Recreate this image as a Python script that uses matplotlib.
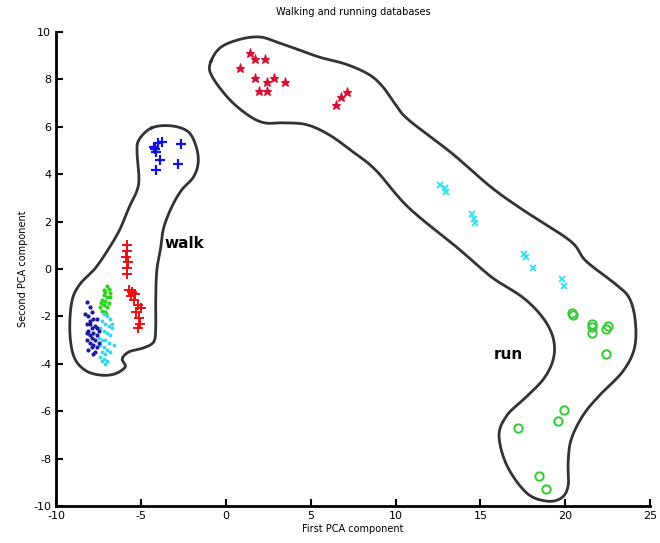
import numpy as np
import matplotlib
matplotlib.use("Agg")
import matplotlib.pyplot as plt

plt.rcParams["axes.unicode_minus"] = False

# ---- walk clusters ----
walk_blue_x = [-4.24, -4.0, -3.78, -2.67, -4.1, -3.9, -2.8, -4.1, -4.2]
walk_blue_y = [5.15, 5.3, 5.36, 5.28, 4.95, 4.6, 4.43, 4.2, 5.05]

walk_red_x = [-5.85, -5.8, -5.9, -5.75, -5.85, -5.8, -5.7, -5.5, -5.35, -5.6,
              -5.4, -5.2, -5.0, -5.3, -5.1, -5.05, -5.15]
walk_red_y = [1.0, 0.75, 0.5, 0.3, 0.05, -0.2, -0.9, -0.95, -1.05, -1.15,
              -1.3, -1.5, -1.65, -1.8, -2.05, -2.3, -2.5]

walk_green_x = [-7.0, -6.9, -7.1, -6.8, -7.2, -7.0, -7.3, -7.1, -6.9, -7.2,
                -7.4, -7.0, -7.3, -7.1, -6.8, -7.2, -7.35, -7.05]
walk_green_y = [-0.7, -0.85, -0.95, -1.0, -1.1, -1.2, -1.3, -1.35, -1.45, -1.5,
                -1.6, -1.6, -1.75, -1.8, -1.2, -0.9, -1.45, -1.9]

walk_cyan_x = [-7.2, -7.0, -6.8, -7.3, -7.1, -6.9, -6.7, -7.4, -7.2, -7.0,
               -6.8, -7.5, -7.3, -7.1, -6.9, -6.6, -7.4, -7.2, -7.0, -7.3,
               -7.1, -6.8, -7.4, -7.2, -7.0, -7.3, -7.1, -6.7]
walk_cyan_y = [-1.9, -2.0, -2.1, -2.2, -2.3, -2.4, -2.5, -2.5, -2.6, -2.7,
               -2.8, -2.9, -3.0, -3.0, -3.1, -3.2, -3.2, -3.3, -3.4, -3.5,
               -3.6, -3.5, -3.7, -3.8, -3.9, -3.9, -4.0, -2.3]

walk_navy_x = [-8.2, -8.0, -7.9, -8.3, -8.1, -7.8, -7.6, -8.2, -8.0, -7.7,
               -7.9, -8.1, -7.5, -7.8, -8.0, -7.6, -7.9, -8.2, -7.7, -7.5,
               -8.0, -7.8, -7.6, -7.9, -8.1, -7.7, -7.8, -8.0, -7.6, -8.2]
walk_navy_y = [-1.4, -1.6, -1.8, -1.9, -2.0, -2.1, -2.1, -2.3, -2.3, -2.4,
               -2.5, -2.6, -2.6, -2.7, -2.8, -2.8, -2.9, -3.0, -3.0, -3.1,
               -3.1, -3.2, -3.3, -3.3, -3.4, -3.5, -3.6, -2.2, -2.5, -2.7]

# ---- run clusters ----
run_red_x = [0.81, 1.4, 1.74, 2.33, 1.7, 2.44, 2.85, 3.5, 1.97, 2.4, 6.5, 6.8, 7.15]
run_red_y = [8.5, 9.1, 8.85, 8.85, 8.08, 7.9, 8.08, 7.9, 7.5, 7.5, 6.94, 7.28, 7.45]

run_cyan_x = [12.6, 12.9, 13.0, 14.5, 14.65, 14.7, 17.56, 17.7, 18.1, 19.8, 19.9]
run_cyan_y = [3.53, 3.4, 3.23, 2.34, 2.1, 1.96, 0.63, 0.5, 0.04, -0.43, -0.7]

run_green_x = [20.47, 20.4, 21.6, 21.6, 21.6, 22.4, 22.5, 22.4, 19.9, 19.55, 17.2, 18.43, 18.84]
run_green_y = [-1.93, -1.85, -2.3, -2.45, -2.7, -2.55, -2.4, -3.6, -5.96, -6.4, -6.7, -8.74, -9.3]

# ---- hand-drawn group outlines (data coords) ----
walk_outline_x = [-4.36, -3.2, -2.21, -1.74, -1.63, -1.92, -2.62, -3.2, -3.66, -3.84,
                  -4.07, -4.13, -4.13, -4.24, -4.83, -5.7, -6.1, -5.93, -6.57, -7.44,
                  -8.31, -8.95, -9.19, -9.07, -8.6, -7.73, -6.98, -6.28, -5.7, -5.23,
                  -5.12, -5.23, -5.12]
walk_outline_y = [5.96, 6.04, 5.79, 5.15, 4.47, 3.87, 3.32, 2.6, 1.74, 0.89,
                  -0.09, -1.36, -2.43, -3.06, -3.32, -3.49, -3.79, -4.13, -4.43, -4.47,
                  -4.26, -3.7, -2.64, -1.36, -0.64, 0.0, 0.77, 1.62, 2.6, 3.32,
                  3.87, 4.89, 5.45]

run_outline_x = [-0.87, -0.29, 0.87, 2.03, 3.02, 4.19, 5.52, 7.09, 8.43, 9.24,
                 10.0, 10.76, 13.31, 15.64, 17.56, 20.29, 21.22, 22.97, 23.78, 24.13,
                 24.07, 23.37, 22.03, 21.05, 20.35, 20.17, 20.17, 19.77, 18.9, 17.73,
                 16.57, 16.1, 16.57, 17.56, 18.72, 19.3, 19.3, 18.72, 17.56, 15.99,
                 15.23, 13.66, 10.76, 8.84, 7.5, 6.1, 4.77, 3.43, 2.27, 1.28,
                 0.12, -0.87]
run_outline_y = [8.77, 9.36, 9.7, 9.79, 9.57, 9.28, 8.94, 8.64, 8.21, 7.7,
                 6.94, 6.3, 4.89, 3.45, 2.47, 1.19, 0.34, -0.64, -1.23, -2.21,
                 -3.36, -4.34, -5.32, -6.17, -7.19, -8.17, -9.15, -9.66, -9.79, -9.45,
                 -8.3, -7.02, -6.17, -5.49, -4.64, -3.79, -2.94, -2.09, -1.23, -0.51,
                 -0.09, 0.89, 2.6, 4.17, 4.94, 5.66, 6.09, 6.17, 6.17, 6.51,
                 7.23, 8.21]

x_ticks = [-10, -5, 0, 5, 10, 15, 20, 25]
y_ticks = [-10, -8, -6, -4, -2, 0, 2, 4, 6, 8, 10]


def smooth_closed(xs, ys, steps=12):
    """Closed Catmull-Rom curve through the outline points."""
    p = np.column_stack([xs, ys])
    n = len(p)
    out = []
    t = np.linspace(0, 1, steps, endpoint=False)[:, None]
    for i in range(n):
        p0, p1, p2, p3 = p[i - 1], p[i], p[(i + 1) % n], p[(i + 2) % n]
        seg = 0.5 * ((2 * p1) + (-p0 + p2) * t
                     + (2 * p0 - 5 * p1 + 4 * p2 - p3) * t ** 2
                     + (-p0 + 3 * p1 - 3 * p2 + p3) * t ** 3)
        out.append(seg)
    out = np.vstack(out + [p[:1]])
    return out[:, 0], out[:, 1]


fig = plt.figure(figsize=(6.6, 5.43), dpi=100)
ax = fig.add_axes([0.085, 0.068, 0.900, 0.873])

for xs, ys in [(walk_outline_x, walk_outline_y), (run_outline_x, run_outline_y)]:
    cx, cy = smooth_closed(xs, ys)
    ax.plot(cx, cy, color="#333333", lw=2.0, zorder=1)

ax.plot(walk_blue_x, walk_blue_y, "+", color="#1010e0", ms=7.5, mew=1.6)
ax.plot(walk_red_x, walk_red_y, "+", color="#e81010", ms=7, mew=1.4)
ax.plot(walk_green_x, walk_green_y, ".", color="#30d020", ms=4)
ax.plot(walk_cyan_x, walk_cyan_y, ".", color="#30d8f0", ms=3.5)
ax.plot(walk_navy_x, walk_navy_y, ".", color="#1a1aa0", ms=4)

ax.plot(run_red_x, run_red_y, "*", color="#d41030", ms=6.5, mew=0.8)
ax.plot(run_cyan_x, run_cyan_y, "x", color="#30e0f0", ms=4, mew=1.3)
ax.plot(run_green_x, run_green_y, "o", mfc="none", mec="#30cc30", ms=6, mew=1.4)

ax.text(-3.6, 1.06, "walk", fontsize=11, fontweight="bold", va="center")
ax.text(15.8, -3.6, "run", fontsize=11, fontweight="bold", va="center")

ax.set_xlim(-10, 25)
ax.set_ylim(-10, 10)
ax.set_xticks(x_ticks)
ax.set_yticks(y_ticks)
ax.tick_params(direction="in", length=5, width=1.5, labelsize=8)
for side in ["top", "right"]:
    ax.spines[side].set_visible(False)
for side in ["left", "bottom"]:
    ax.spines[side].set_linewidth(2)

ax.set_title("Walking and running databases", fontsize=7, pad=12)
ax.set_xlabel("First PCA component", fontsize=7, labelpad=2)
ax.set_ylabel("Second PCA component", fontsize=7, labelpad=4)

fig.savefig("out.png", dpi=100)
